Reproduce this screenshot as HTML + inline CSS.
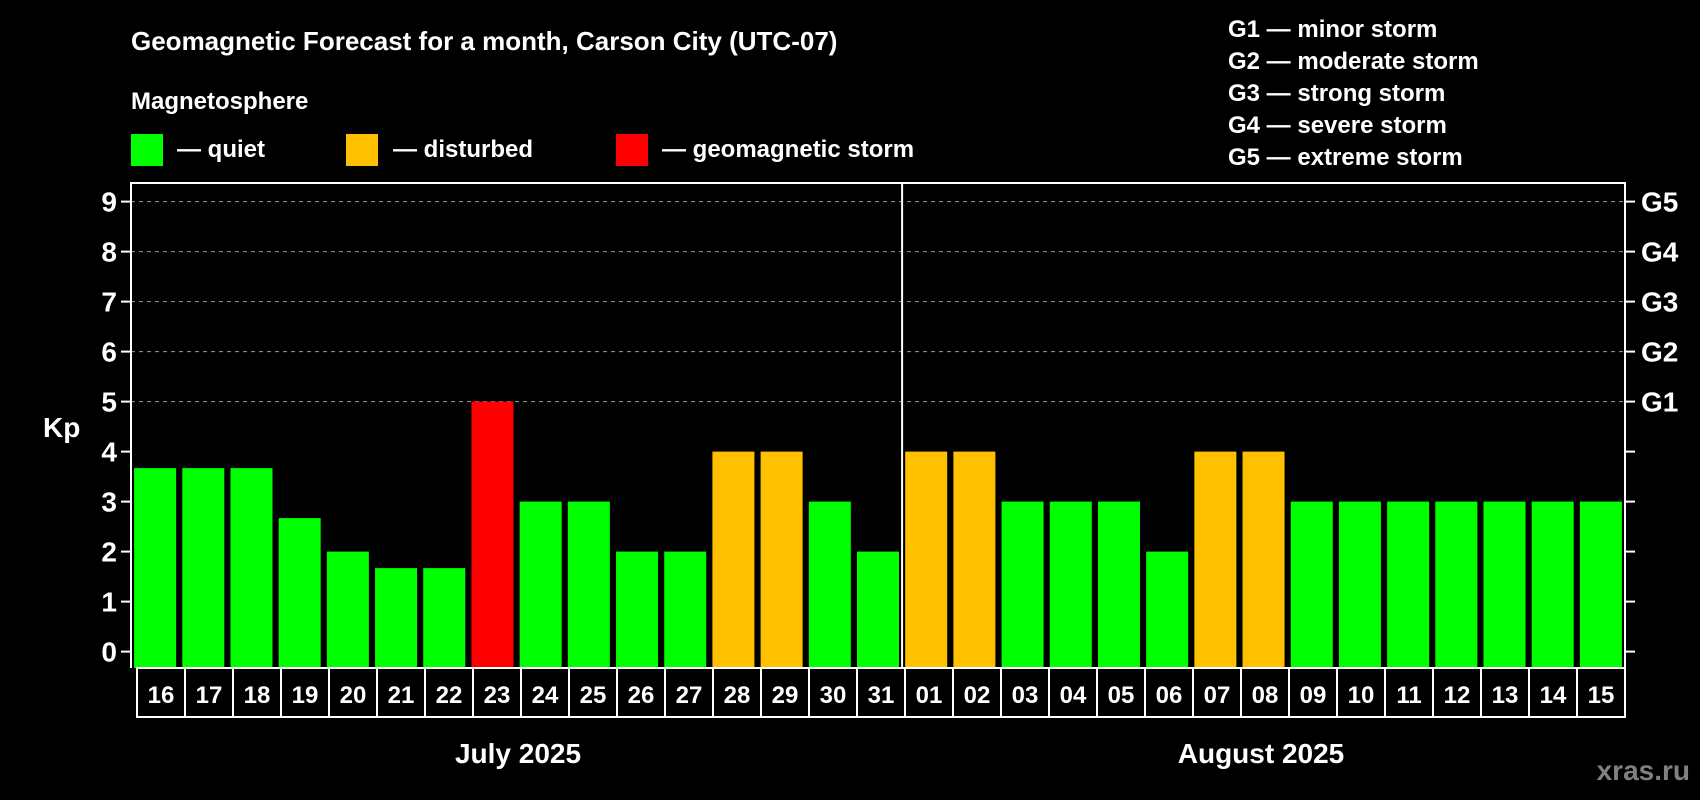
<!DOCTYPE html>
<html><head><meta charset="utf-8"><style>
html,body{margin:0;padding:0;background:#000;}
svg{display:block;font-family:"Liberation Sans",Arial,sans-serif;font-weight:bold;}
</style></head><body>
<svg id="chart" width="1700" height="800" viewBox="0 0 1700 800">
<rect width="1700" height="800" fill="#000"/>
<text x="131" y="50" fill="#fff" font-size="26">Geomagnetic Forecast for a month, Carson City (UTC-07)</text>
<text x="131" y="109" fill="#fff" font-size="24">Magnetosphere</text>
<g><rect x="131" y="134" width="32" height="32" fill="#00ff00"/><text x="177" y="157" fill="#fff" font-size="24">— quiet</text></g>
<g><rect x="346" y="134" width="32" height="32" fill="#ffc000"/><text x="393" y="157" fill="#fff" font-size="24">— disturbed</text></g>
<g><rect x="616" y="134" width="32" height="32" fill="#ff0000"/><text x="662" y="157" fill="#fff" font-size="24">— geomagnetic storm</text></g>
<g fill="#fff" font-size="24">
<text x="1228" y="37">G1 — minor storm</text>
<text x="1228" y="69">G2 — moderate storm</text>
<text x="1228" y="101">G3 — strong storm</text>
<text x="1228" y="133">G4 — severe storm</text>
<text x="1228" y="165">G5 — extreme storm</text>
</g>
<g id="grid"></g>
<g id="bars"></g>
<g id="axes"></g>
<text x="43" y="437" fill="#fff" font-size="28">Kp</text>
<text x="518" y="763" fill="#fff" font-size="28" text-anchor="middle">July 2025</text>
<text x="1261" y="763" fill="#fff" font-size="28" text-anchor="middle">August 2025</text>
<text x="1690" y="780" fill="#808080" font-size="28" text-anchor="end">xras.ru</text>
</svg>
<script>
const days = ["16","17","18","19","20","21","22","23","24","25","26","27","28","29","30","31","01","02","03","04","05","06","07","08","09","10","11","12","13","14","15"];
const kpValues = [3.67,3.67,3.67,2.67,2,1.67,1.67,5,3,3,2,2,4,4,3,2,4,4,3,3,3,2,4,4,3,3,3,3,3,3,3];
const yTicks = [0,1,2,3,4,5,6,7,8,9];
const gLabels = ["","","","","","G1","G2","G3","G4","G5"];
const NS="http://www.w3.org/2000/svg";
const L=131,R=1625,T=183,B=668;
const pitch=(R-L)/days.length;
const y=v=>651.6-v*50;
const xc=i=>L+pitch*(i+0.5);
function mk(t,a,p){const e=document.createElementNS(NS,t);for(const k in a)e.setAttribute(k,a[k]);p.appendChild(e);return e;}
const grid=document.getElementById('grid'),bars=document.getElementById('bars'),axes=document.getElementById('axes');
yTicks.forEach(v=>{
 if(v>=5){const g=mk('line',{x1:L,x2:R,y1:y(v),y2:y(v),stroke:'#999','stroke-width':1,'stroke-dasharray':'4,4'},grid);
 
 }
 const t1=mk('line',{x1:L-10,x2:L,y1:y(v),y2:y(v),stroke:'#fff','stroke-width':2},axes);
 
 
 const t2=mk('line',{x1:R,x2:R+10,y1:y(v),y2:y(v),stroke:'#fff','stroke-width':2},axes);
 
 
 const l=mk('text',{x:L-14,y:y(v)+10,fill:'#fff','font-size':28,'text-anchor':'end'},axes);l.textContent=v;
 
 
 if(gLabels[v]){const g=mk('text',{x:R+16,y:y(v)+10,fill:'#fff','font-size':28},axes);g.textContent=gLabels[v];
 
 }
});
kpValues.forEach((v,i)=>{
 const c=v>=5?'#ff0000':(v>=4?'#ffc000':'#00ff00');
 const b=mk('rect',{x:xc(i)-21,y:y(v),width:42,height:B-y(v),fill:c},bars);
 
 
 const bx=mk('rect',{x:L+6+pitch*i*((R-L-6)/(R-L))- (i?0:0),y:B,width:pitch*((R-L-6)/(R-L)),height:49,fill:'none',stroke:'#fff','stroke-width':2},axes);
 
 
 const t=mk('text',{x:L+6+pitch*((R-L-6)/(R-L))*(i+0.5),y:B+35,fill:'#fff','font-size':24,'text-anchor':'middle'},axes);t.textContent=days[i];
 
 
});
const frame=mk('path',{d:`M${L},${B} L${L},${T} L${R},${T} L${R},${B}`,fill:'none',stroke:'#fff','stroke-width':2},axes);


const dv=mk('line',{x1:L+pitch*16,x2:L+pitch*16,y1:T,y2:B,stroke:'#fff','stroke-width':2},axes);


</script>
</body></html>
